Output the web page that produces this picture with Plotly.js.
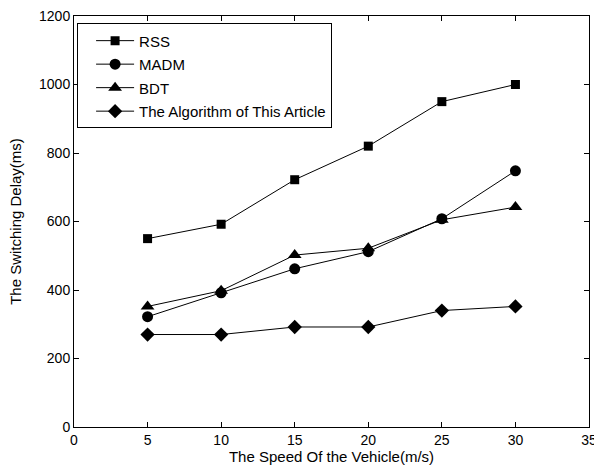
<!DOCTYPE html>
<html><head><meta charset="utf-8">
<script src="https://cdn.plot.ly/plotly-3.0.1.min.js"></script>
<style>html,body{margin:0;padding:0;background:#fff}#c{width:594px;height:466px}</style>
</head><body><div id="c"></div>
<script>
const speeds = [5, 10, 15, 20, 25, 30];
const rss = [550, 592, 722, 820, 950, 1000];
const madm = [322, 392, 462, 512, 608, 748];
const bdt = [352, 398, 502, 522, 605, 642];
const algo = [270, 270, 292, 292, 340, 352];
const seriesNames = ["RSS", "MADM", "BDT", "The Algorithm of This Article"];
const symbols = ["square", "circle", "triangle-up", "diamond"];
const sizes = [9, 11, 12, 11];
const data = [rss, madm, bdt, algo].map((ys, i) => ({
  x: speeds, y: ys, name: seriesNames[i], type: "scatter", mode: "lines+markers",
  legendgroup: "g" + i,
  line: {color: "#000", width: 1},
  marker: {symbol: symbols[i], size: sizes[i], color: "#000"}
}));
const axisCommon = {
  showgrid: false, zeroline: false, showline: true, linecolor: "#000", linewidth: 1,
  mirror: "ticks", ticks: "inside", ticklen: 5, tickcolor: "#000",
  ticklabeloverflow: "allow",
  tickfont: {family: "Liberation Sans, Arial, sans-serif", size: 14, color: "#000"}
};
const layout = {
  width: 594, height: 466,
  margin: {l: 74, r: 5, t: 16, b: 39},
  paper_bgcolor: "#fff", plot_bgcolor: "#fff",
  font: {family: "Liberation Sans, Arial, sans-serif", size: 14, color: "#000"},
  xaxis: Object.assign({}, axisCommon, {range: [0, 35], dtick: 5, tick0: 0,
    title: {text: "The Speed Of the Vehicle(m/s)", standoff: 2, font: {size: 15}}}),
  yaxis: Object.assign({}, axisCommon, {range: [0, 1200], dtick: 200, tick0: 0,
    title: {text: "The Switching Delay(ms)", standoff: 13, font: {size: 15}}}),
  showlegend: true,
  legend: {x: 0.006, y: 0.982, xanchor: "left", yanchor: "top",
    bordercolor: "#000", borderwidth: 1, bgcolor: "#fff",
    font: {size: 15}, tracegroupgap: 1, itemwidth: 38, indentation: 13}
};
Plotly.newPlot("c", data, layout, {displayModeBar: false, staticPlot: true});
</script></body></html>
